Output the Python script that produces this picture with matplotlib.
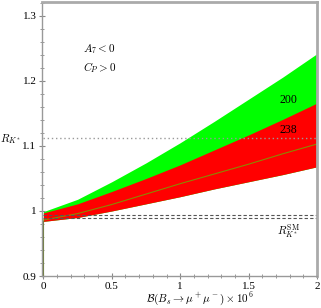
import matplotlib
matplotlib.use("Agg")
import matplotlib.pyplot as plt
from matplotlib.ticker import MultipleLocator, FixedLocator

plt.rcParams['font.family'] = ['Liberation Serif', 'DejaVu Serif']
plt.rcParams['mathtext.fontset'] = 'cm'

# data
bs = [0.0, 0.25, 0.5, 0.75, 1.0, 1.25, 1.5, 1.75, 2.0]
green_top = [0.999, 1.018, 1.045, 1.074, 1.105, 1.138, 1.172, 1.206, 1.242]
red_top = [0.997, 1.011, 1.030, 1.050, 1.071, 1.094, 1.117, 1.141, 1.166]
central = [0.986, 0.996, 1.010, 1.026, 1.042, 1.057, 1.072, 1.088, 1.103]
red_bot = [0.984, 0.990, 1.000, 1.011, 1.022, 1.034, 1.045, 1.056, 1.068]
rk_exp = 1.112
rk_sm = [0.9934, 0.989]
xticks = [0, 0.5, 1, 1.5, 2]
xticklabels = ['0', '0.5', '1', '1.5', '2']
yticks = [0.9, 1.0, 1.1, 1.2, 1.3]
yticklabels = ['0.9', '1', '1.1', '1.2', '1.3']

fig = plt.figure(figsize=(3.21, 3.08), dpi=100)
ax = fig.add_axes([42/321, 1-276/308, (317-42)/321, 274/308])

ax.fill_between(bs, red_bot, green_top, color='#00ff00', lw=0)
ax.fill_between(bs, red_bot, red_top, color='#ff0000', lw=0)
ax.plot(bs, central, color='#8a8a00', lw=0.8)
ax.plot([0, 0], [0.9, red_bot[0]], color='#6b7a3a', lw=0.8)

ax.plot([0, 2], [rk_exp, rk_exp], color='#999999', lw=1.0, ls=(0, (1, 2)))
for v in rk_sm:
    ax.plot([0, 2], [v, v], color='#555555', lw=0.8, ls=(0, (3, 2)))

ax.set_xlim(-0.01, 2.0)
ax.set_ylim(0.9, 1.3215)

ax.xaxis.set_major_locator(FixedLocator(xticks))
ax.set_xticklabels(xticklabels)
ax.xaxis.set_minor_locator(MultipleLocator(0.1))
ax.yaxis.set_major_locator(FixedLocator(yticks))
ax.set_yticklabels(yticklabels)
ax.yaxis.set_minor_locator(MultipleLocator(0.02))
ax.tick_params(which='both', direction='inout', color='#888888', labelsize=8, pad=2)
ax.tick_params(which='major', length=4, width=0.8)
ax.tick_params(which='minor', length=2.5, width=0.6)

for s in ['left', 'bottom']:
    ax.spines[s].set_color('#999999')
    ax.spines[s].set_linewidth(1.0)
for s in ['top', 'right']:
    ax.spines[s].set_color('#aaaaaa')
    ax.spines[s].set_linewidth(2.0)

fs = 8
ax.text(0.41, 1.249, r'$A_7 < 0$', ha='center', va='center', fontsize=fs)
ax.text(0.41, 1.220, r'$C_P > 0$', ha='center', va='center', fontsize=fs)
ax.text(1.79, 1.171, '200', ha='center', va='center', fontsize=8.5)
ax.text(1.79, 1.125, '238', ha='center', va='center', fontsize=8.5)
ax.text(1.79, 0.969, r'$R_{K^*}^{\rm SM}$', ha='center', va='center', fontsize=fs)

fig.text(11/321, 1-139/308, r'$R_{K^*}$', ha='center', va='center', fontsize=fs)
fig.text(200/321, 1-299/308, r'$\mathcal{B}(B_s\to\mu^+\mu^-)\times 10^6$',
         ha='center', va='center', fontsize=fs)

fig.savefig('out.png', dpi=100)
